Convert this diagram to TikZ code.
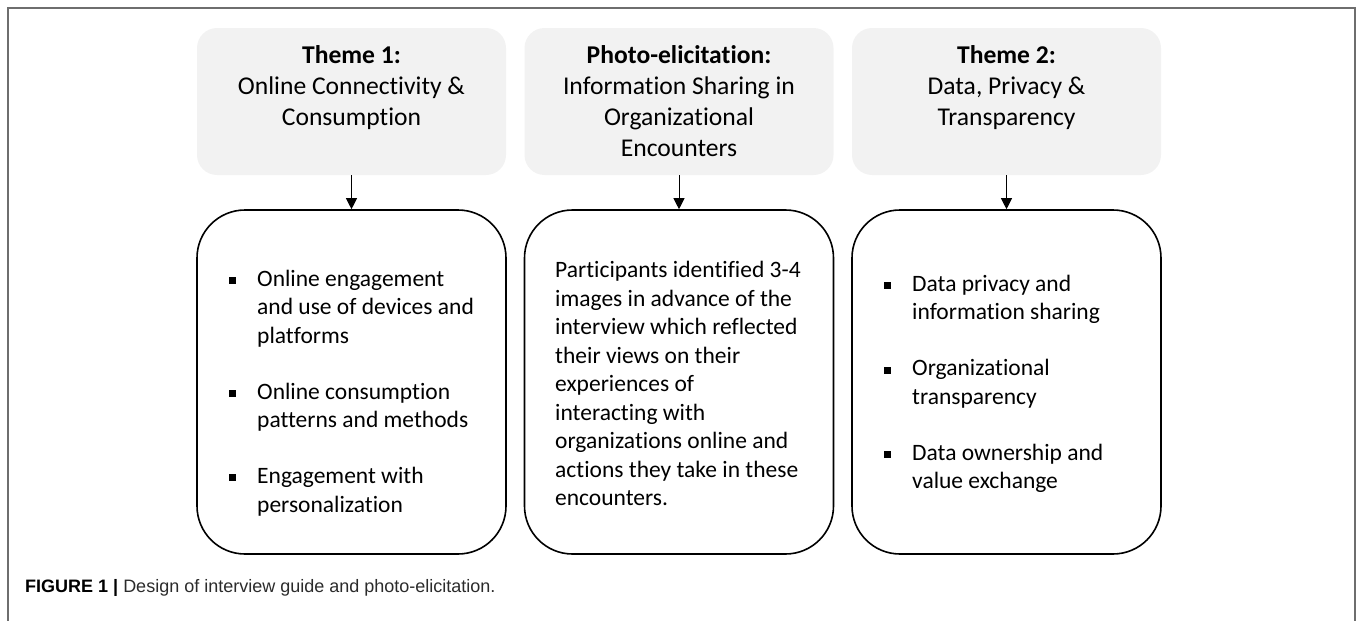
\documentclass[tikz,border=0pt]{standalone}
\usepackage{fontspec}
\setmainfont[RawFeature={-liga;-dlig;-clig}]{Carlito}
\newfontfamily\capfont{Liberation Sans}
\usetikzlibrary{arrows.meta}
\definecolor{hdrgray}{HTML}{F2F2F2}
\definecolor{framegray}{HTML}{6E6E6E}
\definecolor{captext}{HTML}{2B2B2B}
\newcommand{\hdrfont}{\fontsize{25.6}{31}\selectfont}
\newcommand{\bodyfont}{\fontsize{23.5}{28.5}\selectfont}
\newcommand{\sqbul}{\makebox[28pt][l]{\rule[0.1em]{7pt}{7pt}}}
\newcommand{\hang}{\hspace*{28pt}}
\tikzset{
  hdrbox/.style={fill=hdrgray, draw=none, rounded corners=20pt,
    minimum width=309pt, minimum height=147pt, inner sep=0pt},
  bodybox/.style={draw=black, line width=1.6pt, rounded corners=48pt,
    minimum width=309pt, minimum height=344pt, inner sep=0pt},
  hdrtext/.style={align=center, inner sep=0pt, anchor=north, font=\hdrfont},
  bodytext/.style={align=left, inner sep=0pt, anchor=west, font=\bodyfont},
  link/.style={line width=1pt, -{Triangle[width=11pt,length=11pt]}},
}
\begin{document}
\begin{tikzpicture}[x=1pt, y=-1pt]
\useasboundingbox (0,0) rectangle (1358,621);
% outer frame
\draw[framegray, line width=1.3pt] (8,630) -- (8,8) -- (1355,8) -- (1355,630);

% header boxes
\node[hdrbox] (h1) at (351.5,101.5) {};
\node[hdrbox] (h2) at (679,101.5) {};
\node[hdrbox] (h3) at (1006.5,101.5) {};

\node[hdrtext] (t1) at ([yshift=-18pt]h1.north) {\textbf{Theme 1:}\\Online Connectivity \&\\Consumption};
\node[hdrtext] (t2) at ([yshift=-18pt]h2.north) {\textbf{Photo-elicitation:}\\Information Sharing in\\Organizational\\Encounters};
\node[hdrtext] (t3) at ([yshift=-18pt]h3.north) {\textbf{Theme 2:}\\Data, Privacy \&\\Transparency};

% content boxes
\node[bodybox] (b1) at (351.5,382) {};
\node[bodybox] (b2) at (679,382) {};
\node[bodybox] (b3) at (1006.5,382) {};

\draw[link] (h1) -- (b1);
\draw[link] (h2) -- (b2);
\draw[link] (h3) -- (b3);

\node[bodytext] (l1) at (229,393) {%
  \sqbul Online engagement\\
  \hang and use of devices and\\
  \hang platforms\\[27.5pt]
  \sqbul Online consumption\\
  \hang patterns and methods\\[27.5pt]
  \sqbul Engagement with\\
  \hang personalization};

\node[bodytext] (l2) at (555,383.5) {%
  Participants identified 3-4\\
  images in advance of the\\
  interview which reflected\\
  their views on their\\
  experiences of\\
  interacting with\\
  organizations online and\\
  actions they take in these\\
  encounters.};

\node[bodytext] (l3) at (884,384) {%
  \sqbul Data privacy and\\
  \hang information sharing\\[27.5pt]
  \sqbul Organizational\\
  \hang transparency\\[27.5pt]
  \sqbul Data ownership and\\
  \hang value exchange};

% caption
\node[anchor=base west, inner sep=0pt, font=\capfont\fontsize{18}{22}\selectfont, text=captext]
  (cap) at (25,592) {\textbf{\color{black}FIGURE 1 |} Design of interview guide and photo-elicitation.};
\end{tikzpicture}
\end{document}
